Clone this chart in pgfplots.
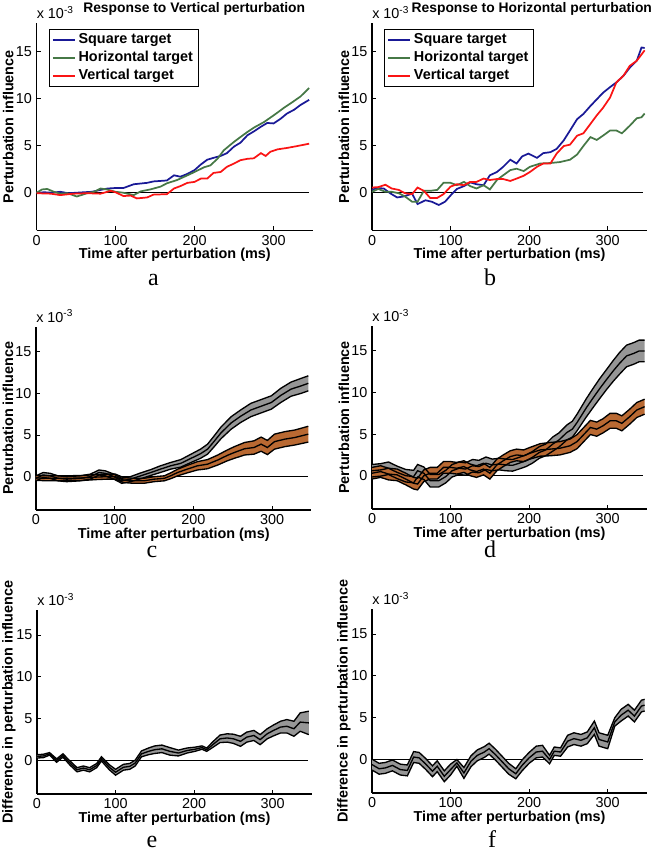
\documentclass[border=0pt]{standalone}
\usepackage{fontspec}
\setmainfont{Liberation Sans}
\newfontfamily\letterfont{Liberation Serif}
\usepackage{pgfplots}
\pgfplotsset{compat=1.18}
\usepackage{pgfplotstable}

\definecolor{mblue}{RGB}{25,25,150}
\definecolor{mgreen}{RGB}{70,120,70}
\definecolor{mred}{RGB}{250,20,20}
\definecolor{bgray}{RGB}{150,150,150}
\definecolor{bbrown}{RGB}{185,105,50}

\newcommand{\tf}{\fontsize{10.8}{12.5}\selectfont}
\newcommand{\ttlf}{\fontsize{10.4}{12}\selectfont}

% panel c
\pgfplotstableread{
x lo c hi
0 -0.5 -0.2 0.1
9 -0.1 0.2 0.5
18 -0.2 0.1 0.4
28 -0.5 -0.2 0.1
39 -0.6 -0.3 0.0
56 -0.5 -0.2 0.1
69 -0.3 0.0 0.3
80 0.2 0.5 0.8
88 0.1 0.4 0.7
99 -0.3 0.0 0.3
109 -0.8 -0.5 -0.2
120 -0.6 -0.3 0.0
133 -0.25 0.1 0.45
146 0.15 0.5 0.85
158 0.5 0.9 1.3
171 0.9 1.3 1.7
184 1.15 1.6 2.05
197 1.7 2.2 2.7
209 2.2 2.75 3.3
218 2.7 3.3 3.9
226 3.55 4.2 4.85
235 4.55 5.25 5.95
248 5.7 6.45 7.2
260 6.5 7.25 8.0
273 7.2 8.0 8.8
286 7.65 8.45 9.25
299 8.1 8.9 9.7
311 8.9 9.75 10.6
324 9.65 10.5 11.35
337 10.0 10.9 11.8
346 10.3 11.2 12.1
}\cgray
\pgfplotstableread{
x lo c hi
0 -0.45 -0.15 0.15
18 -0.5 -0.2 0.1
39 -0.5 -0.2 0.1
60 -0.45 -0.15 0.15
77 -0.35 -0.05 0.25
90 -0.3 0.0 0.3
101 -0.3 0.0 0.3
111 -0.7 -0.4 -0.1
124 -0.8 -0.5 -0.2
137 -0.8 -0.5 -0.2
150 -0.6 -0.3 0.0
163 -0.5 -0.2 0.1
171 -0.25 0.1 0.45
180 0.1 0.5 0.9
192 0.45 0.9 1.35
205 0.8 1.3 1.8
218 0.95 1.5 2.05
231 1.4 2.0 2.6
243 1.9 2.55 3.2
252 2.2 2.9 3.6
265 2.6 3.35 4.1
277 2.7 3.5 4.3
286 3.05 3.9 4.75
294 2.65 3.5 4.35
303 3.3 4.2 5.1
316 3.6 4.5 5.4
329 3.8 4.7 5.6
346 4.15 5.1 6.05
}\cbrown
% panel d
\pgfplotstableread{
x lo c hi
0 -0.15 0.6 1.35
11 -0.05 0.7 1.45
21 0.15 0.9 1.65
32 -0.35 0.4 1.15
43 -0.75 0.0 0.75
53 -0.85 -0.1 0.65
58 -0.15 0.6 1.35
66 -0.45 0.3 1.05
74 -1.35 -0.6 0.15
85 -1.35 -0.6 0.15
94 -0.85 -0.1 0.65
102 -0.15 0.6 1.35
111 0.15 0.9 1.65
119 0.05 0.8 1.55
128 0.45 1.2 1.95
136 0.35 1.1 1.85
145 0.75 1.5 2.25
153 0.6 1.3 2.0
162 0.7 1.4 2.1
170 0.6 1.3 2.0
179 0.55 1.25 1.95
187 0.8 1.5 2.2
196 1.1 1.8 2.5
204 1.5 2.2 2.9
213 2.1 2.8 3.5
221 2.4 3.1 3.8
230 2.95 3.8 4.65
238 3.45 4.3 5.15
248 4.3 5.2 6.1
255 4.65 5.6 6.55
261 5.4 6.4 7.4
267 6.25 7.3 8.35
273 7.1 8.2 9.3
281 8.15 9.3 10.45
290 9.3 10.5 11.7
298 10.3 11.5 12.7
307 11.35 12.6 13.85
315 12.2 13.5 14.8
324 13.1 14.4 15.7
333 13.4 14.7 16.0
340 13.7 15.0 16.3
347 13.7 15.0 16.3
}\dgray
\pgfplotstableread{
x lo c hi
0 -0.4 0.3 1.0
11 -0.2 0.5 1.2
21 -0.5 0.2 0.9
32 -0.6 0.1 0.8
43 -1.1 -0.4 0.3
53 -1.6 -0.9 -0.2
58 -1.7 -1.0 -0.3
66 -0.7 0.0 0.7
74 -0.4 0.3 1.0
83 -0.4 0.3 1.0
91 0.3 1.0 1.7
100 0.3 1.0 1.7
108 0.2 0.9 1.6
117 0.4 1.1 1.8
125 0.0 0.7 1.4
133 -0.2 0.5 1.2
142 0.1 0.8 1.5
150 -0.4 0.3 1.0
159 0.6 1.3 2.0
167 1.1 1.8 2.5
176 1.6 2.3 3.0
184 1.8 2.5 3.2
193 1.7 2.4 3.1
201 2.0 2.7 3.4
214 2.35 3.1 3.85
227 2.4 3.2 4.0
239 2.5 3.3 4.1
252 2.8 3.6 4.4
261 3.25 4.1 4.95
269 4.05 4.9 5.75
278 4.95 5.8 6.65
286 4.75 5.6 6.45
294 5.15 6.0 6.85
303 5.7 6.6 7.5
311 5.7 6.6 7.5
318 5.4 6.3 7.2
328 6.2 7.1 8.0
337 7.0 7.9 8.8
347 7.4 8.3 9.2
}\dbrown
% panel e
\pgfplotstableread{
x lo c hi
0 0.3 0.5 0.7
8 0.35 0.55 0.75
16 0.65 0.8 0.95
25 -0.2 0.0 0.2
33 0.4 0.6 0.8
42 -0.55 -0.3 -0.05
51 -1.35 -1.1 -0.85
59 -1.15 -0.9 -0.65
67 -1.35 -1.1 -0.85
76 -0.85 -0.6 -0.35
82 -0.05 0.2 0.45
92 -1.1 -0.8 -0.5
100 -1.75 -1.4 -1.05
110 -1.15 -0.8 -0.45
118 -1.05 -0.7 -0.35
125 -0.65 -0.3 0.05
133 0.45 0.8 1.15
142 0.7 1.1 1.5
150 0.85 1.3 1.75
159 0.95 1.4 1.85
169 0.65 1.1 1.55
180 0.55 0.9 1.25
191 0.9 1.2 1.5
201 1.1 1.35 1.6
210 1.35 1.55 1.75
216 1.1 1.3 1.5
225 1.65 2.0 2.35
233 2.15 2.6 3.05
242 2.2 2.7 3.2
250 2.05 2.6 3.15
259 1.7 2.3 2.9
267 2.2 2.8 3.4
276 2.4 3.0 3.6
284 1.9 2.5 3.1
293 2.6 3.2 3.8
301 2.95 3.6 4.25
310 3.3 4.0 4.7
318 3.3 4.1 4.9
327 2.9 3.8 4.7
335 3.5 4.6 5.7
346 3.1 4.5 5.9
}\egray
% panel f
\pgfplotstableread{
x lo c hi
0 -1.25 -0.6 0.05
9 -1.75 -1.1 -0.45
17 -1.65 -1.0 -0.35
26 -1.35 -0.7 -0.05
36 -1.85 -1.2 -0.55
45 -1.95 -1.3 -0.65
53 -0.35 0.3 0.95
60 -0.45 0.2 0.85
68 -1.15 -0.5 0.15
77 -2.05 -1.4 -0.75
83 -1.45 -0.8 -0.15
92 -2.65 -2.0 -1.35
100 -1.85 -1.2 -0.55
108 -0.8 -0.4 0.0
117 -2.25 -1.6 -0.95
126 -0.85 -0.2 0.45
134 -0.15 0.5 1.15
143 0.25 0.9 1.55
149 0.65 1.3 1.95
157 -0.05 0.6 1.25
166 -0.95 -0.3 0.35
174 -1.75 -1.1 -0.45
183 -2.3 -1.7 -1.1
191 -1.35 -0.7 -0.05
200 -0.45 0.2 0.85
209 0.2 0.9 1.6
217 0.3 1.0 1.7
226 -0.5 0.0 0.5
232 0.5 1.0 1.5
240 0.4 0.9 1.4
249 1.5 2.2 2.9
257 1.8 2.5 3.2
266 1.6 2.3 3.0
274 1.9 2.6 3.3
283 3.0 3.8 4.6
289 1.6 2.4 3.2
300 1.3 2.1 2.9
309 4.0 4.5 5.0
317 4.6 5.3 6.0
326 5.2 5.9 6.6
334 4.5 5.2 5.9
343 5.7 6.4 7.1
347 5.8 6.5 7.2
}\fgray

\pgfplotsset{
 panel/.style={
  scale only axis, width=206.25pt,
  axis lines*=left, xmin=0, xmax=350, ymin=-4, ymax=18,
  xtick={0,100,200,300}, ytick={0,5,10,15},
  tick align=inside, major tick length=3pt,
  axis line style={line width=0.9pt, black},
  every tick/.style={black, line width=0.7pt},
  tick label style={font=\tf},
  /pgf/number format/assume math mode=true,
  scaled ticks=false,
  clip=false,
  label style={font=\bfseries\tf},
  xlabel={Time after perturbation (ms)},
  xlabel style={at={(axis description cs:0.5,0)}, anchor=center, yshift=-18.5pt},
  ylabel style={at={(axis description cs:-0.102,0.5)}, anchor=center},
 },
 legstyle/.style={
  legend style={at={(axis description cs:0.045,0.971)}, anchor=north west,
   draw=black, line width=0.6pt, font=\bfseries\tf,
   inner xsep=2pt, inner ysep=1.2pt, row sep=0pt, nodes={inner sep=2.1pt}},
  legend cell align=left,
  legend image code/.code={\draw[##1, line width=1.3pt] (0pt,0pt) -- (16.5pt,0pt);},
 },
 bandline/.style={black, line width=1pt},
}
\newcommand{\expo}{\node[anchor=base west, font=\tf, inner sep=0pt] at (rel axis cs:0,1) [yshift=3.4pt] {x 10\textsuperscript{-3}};}

\begin{document}
\begin{tikzpicture}
\useasboundingbox (0,0) rectangle (495pt,639.75pt);

% ---------- a ----------
\begin{axis}[panel, legstyle, at={(27.4pt,466.9pt)}, width=207.4pt, height=155.6pt,
  ylabel={Perturbation influence}]
\addplot[black, line width=0.8pt, forget plot] coordinates {(0,0) (345,0)};
\addplot[mblue, line width=1.3pt] coordinates {
(0,0.0) (10,0.05) (20,0.0) (30,0.1) (40,-0.05) (50,0.0) (60,0.05) (70,0.1) (81,0.3) (90,0.45)
(100,0.5) (110,0.5) (123,0.9) (140,1.05) (148,1.2) (165,1.3) (174,1.85) (182,1.7) (191,2.0)
(200,2.4) (208,3.0) (216,3.5) (224,3.7) (233,3.9) (241,4.2) (250,4.9) (258,5.3) (267,6.1)
(275,6.5) (284,7.0) (292,7.4) (300,7.35) (309,7.85) (317,8.4) (326,8.8) (334,9.3) (345,9.85)};
\addlegendentry{Square target}
\addplot[mgreen, line width=1.3pt] coordinates {
(0,0.0) (7,0.35) (13.5,0.4) (22,0.1) (30,-0.1) (39,-0.05) (51,-0.4) (64,-0.05) (73,0.1)
(81,0.45) (89,0.35) (100,0.1) (110,0.0) (123,-0.25) (132,0.15) (144,0.35) (157,0.65)
(165,1.0) (178,1.35) (191,1.85) (200,2.2) (212,2.7) (220,2.9) (229,3.6) (237,4.5) (250,5.4)
(258,5.9) (267,6.45) (275,6.9) (288,7.5) (300,8.2) (305,8.5) (313,9.0) (322,9.5) (334,10.2)
(345,11.1)};
\addlegendentry{Horizontal target}
\addplot[mred, line width=1.3pt] coordinates {
(0,-0.05) (18,-0.1) (30,-0.25) (47,-0.1) (64,-0.05) (81,-0.1) (94,0.2) (100,0.05) (110,-0.35)
(119,-0.3) (127,-0.6) (140,-0.5) (148,-0.2) (165,-0.15) (174,0.45) (182,0.7) (191,1.05)
(200,1.15) (208,1.5) (216,1.5) (224,2.1) (233,2.2) (241,2.75) (250,3.1) (258,3.45) (267,3.6)
(275,3.65) (284,4.2) (290,3.9) (296,4.35) (305,4.6) (317,4.75) (330,4.95) (345,5.2)};
\addlegendentry{Vertical target}
\expo
\end{axis}

% ---------- b ----------
\begin{axis}[panel, legstyle, at={(279pt,466.9pt)}, height=155.6pt,
  ylabel={Perturbation influence}]
\addplot[black, line width=0.8pt, forget plot] coordinates {(0,0) (345,0)};
\addplot[mblue, line width=1.3pt] coordinates {
(0,0.3) (6,0.5) (15,0.45) (23,-0.05) (32,-0.5) (40,-0.4) (51,-0.1) (58,-1.2) (68,-0.8)
(76,-0.95) (85,-1.3) (93,-0.95) (102,-0.1) (108,0.4) (117,0.7) (125,1.1) (133,0.9) (142,0.8)
(150,1.85) (159,2.2) (167,2.75) (176,3.5) (184,3.1) (191,3.85) (199,4.15) (210,3.7) (218,4.2)
(227,4.3) (235,4.65) (244,5.55) (252,6.6) (261,7.8) (269,8.35) (278,9.2) (286,9.9) (294,10.6)
(303,11.2) (311,11.7) (320,12.4) (328,13.25) (337,14.0) (343,15.4) (347,15.35)};
\addlegendentry{Square target}
\addplot[mgreen, line width=1.3pt] coordinates {
(0,0.1) (8,0.4) (17,0.1) (25,0.1) (34,-0.05) (42,-0.4) (51,-0.95) (58,-0.95) (66,0.2) (74,0.2)
(83,0.3) (91,1.05) (100,1.05) (108,0.8) (117,1.15) (125,0.7) (133,0.45) (142,0.8) (150,0.35)
(159,1.35) (167,1.85) (176,2.4) (184,2.55) (193,2.3) (201,2.75) (214,3.1) (227,3.15) (239,3.25)
(252,3.5) (261,4.05) (269,4.95) (278,5.9) (286,5.6) (294,6.05) (303,6.6) (311,6.6) (318,6.3)
(328,7.1) (337,7.9) (343,8.0) (347,8.4)};
\addlegendentry{Horizontal target}
\addplot[mred, line width=1.3pt] coordinates {
(0,0.55) (8,0.6) (17,0.85) (25,0.45) (34,0.3) (42,-0.05) (51,-0.15) (58,0.55) (66,0.2)
(74,-0.55) (83,-0.55) (91,-0.15) (100,0.65) (108,0.9) (117,0.8) (125,1.15) (133,1.15) (142,1.5)
(150,1.35) (159,1.45) (167,1.45) (176,1.25) (184,1.5) (193,1.8) (201,2.2) (210,2.75) (218,3.1)
(227,3.1) (235,4.15) (244,4.95) (252,5.1) (261,6.05) (269,6.3) (278,7.3) (286,8.2) (294,9.0)
(303,10.1) (311,11.7) (320,12.4) (328,13.45) (337,14.0) (347,15.1)};
\addlegendentry{Vertical target}
\expo
\end{axis}

% ---------- c ----------
\begin{axis}[panel, at={(27pt,257.25pt)}, width=206.6pt, height=137.5pt,
  ylabel={Perturbation influence}]
\addplot[black, line width=0.8pt] coordinates {(0,0) (345,0)};
\addplot[fill=bgray, draw=none] coordinates {
(0,0.1) (9,0.5) (18,0.4) (28,0.1) (39,0.0) (56,0.1) (69,0.3) (80,0.8) (88,0.7) (99,0.3) (109,-0.2) (120,0.0) (133,0.45) (146,0.85) (158,1.3) (171,1.7) (184,2.05) (197,2.7) (209,3.3) (218,3.9) (226,4.85) (235,5.95) (248,7.2) (260,8.0) (273,8.8) (286,9.25) (299,9.7) (311,10.6) (324,11.35) (337,11.8) (346,12.1)
(346,10.3) (337,10.0) (324,9.65) (311,8.9) (299,8.1) (286,7.65) (273,7.2) (260,6.5) (248,5.7) (235,4.55) (226,3.55) (218,2.7) (209,2.2) (197,1.7) (184,1.15) (171,0.9) (158,0.5) (146,0.15) (133,-0.25) (120,-0.6) (109,-0.8) (99,-0.3) (88,0.1) (80,0.2) (69,-0.3) (56,-0.5) (39,-0.6) (28,-0.5) (18,-0.2) (9,-0.1) (0,-0.5)} -- cycle;
\addplot[fill=bbrown, draw=none] coordinates {
(0,0.15) (18,0.1) (39,0.1) (60,0.15) (77,0.25) (90,0.3) (101,0.3) (111,-0.1) (124,-0.2) (137,-0.2) (150,0.0) (163,0.1) (171,0.45) (180,0.9) (192,1.35) (205,1.8) (218,2.05) (231,2.6) (243,3.2) (252,3.6) (265,4.1) (277,4.3) (286,4.75) (294,4.35) (303,5.1) (316,5.4) (329,5.6) (346,6.05)
(346,4.15) (329,3.8) (316,3.6) (303,3.3) (294,2.65) (286,3.05) (277,2.7) (265,2.6) (252,2.2) (243,1.9) (231,1.4) (218,0.95) (205,0.8) (192,0.45) (180,0.1) (171,-0.25) (163,-0.5) (150,-0.6) (137,-0.8) (124,-0.8) (111,-0.7) (101,-0.3) (90,-0.3) (77,-0.35) (60,-0.45) (39,-0.5) (18,-0.5) (0,-0.45)} -- cycle;
\addplot[bandline] table[x=x,y=hi]{\cgray};
\addplot[bandline] table[x=x,y=lo]{\cgray};
\addplot[bandline] table[x=x,y=c]{\cgray};
\addplot[bandline] table[x=x,y=hi]{\cbrown};
\addplot[bandline] table[x=x,y=lo]{\cbrown};
\addplot[bandline] table[x=x,y=c]{\cbrown};
\expo
\end{axis}

% ---------- d ----------
\begin{axis}[panel, at={(279pt,258pt)}, height=137.25pt,
  ylabel={Perturbation influence}]
\addplot[black, line width=0.8pt] coordinates {(0,0) (345,0)};
\addplot[fill=bgray, draw=none] coordinates {
(0,1.35) (11,1.45) (21,1.65) (32,1.15) (43,0.75) (53,0.65) (58,1.35) (66,1.05) (74,0.15) (85,0.15) (94,0.65) (102,1.35) (111,1.65) (119,1.55) (128,1.95) (136,1.85) (145,2.25) (153,2.0) (162,2.1) (170,2.0) (179,1.95) (187,2.2) (196,2.5) (204,2.9) (213,3.5) (221,3.8) (230,4.65) (238,5.15) (248,6.1) (255,6.55) (261,7.4) (267,8.35) (273,9.3) (281,10.45) (290,11.7) (298,12.7) (307,13.85) (315,14.8) (324,15.7) (333,16.0) (340,16.3) (347,16.3)
(347,13.7) (340,13.7) (333,13.4) (324,13.1) (315,12.2) (307,11.35) (298,10.3) (290,9.3) (281,8.15) (273,7.1) (267,6.25) (261,5.4) (255,4.65) (248,4.3) (238,3.45) (230,2.95) (221,2.4) (213,2.1) (204,1.5) (196,1.1) (187,0.8) (179,0.55) (170,0.6) (162,0.7) (153,0.6) (145,0.75) (136,0.35) (128,0.45) (119,0.05) (111,0.15) (102,-0.15) (94,-0.85) (85,-1.35) (74,-1.35) (66,-0.45) (58,-0.15) (53,-0.85) (43,-0.75) (32,-0.35) (21,0.15) (11,-0.05) (0,-0.15)} -- cycle;
\addplot[fill=bbrown, draw=none] coordinates {
(0,1.0) (11,1.2) (21,0.9) (32,0.8) (43,0.3) (53,-0.2) (58,-0.3) (66,0.7) (74,1.0) (83,1.0) (91,1.7) (100,1.7) (108,1.6) (117,1.8) (125,1.4) (133,1.2) (142,1.5) (150,1.0) (159,2.0) (167,2.5) (176,3.0) (184,3.2) (193,3.1) (201,3.4) (214,3.85) (227,4.0) (239,4.1) (252,4.4) (261,4.95) (269,5.75) (278,6.65) (286,6.45) (294,6.85) (303,7.5) (311,7.5) (318,7.2) (328,8.0) (337,8.8) (347,9.2)
(347,7.4) (337,7.0) (328,6.2) (318,5.4) (311,5.7) (303,5.7) (294,5.15) (286,4.75) (278,4.95) (269,4.05) (261,3.25) (252,2.8) (239,2.5) (227,2.4) (214,2.35) (201,2.0) (193,1.7) (184,1.8) (176,1.6) (167,1.1) (159,0.6) (150,-0.4) (142,0.1) (133,-0.2) (125,0.0) (117,0.4) (108,0.2) (100,0.3) (91,0.3) (83,-0.4) (74,-0.4) (66,-0.7) (58,-1.7) (53,-1.6) (43,-1.1) (32,-0.6) (21,-0.5) (11,-0.2) (0,-0.4)} -- cycle;
\addplot[bandline] table[x=x,y=hi]{\dgray};
\addplot[bandline] table[x=x,y=lo]{\dgray};
\addplot[bandline] table[x=x,y=c]{\dgray};
\addplot[bandline] table[x=x,y=hi]{\dbrown};
\addplot[bandline] table[x=x,y=lo]{\dbrown};
\addplot[bandline] table[x=x,y=c]{\dbrown};
\expo
\end{axis}

% ---------- e ----------
\begin{axis}[panel, at={(27.75pt,44.25pt)}, height=138pt,
  ylabel={Difference in perturbation influence}]
\addplot[black, line width=0.8pt] coordinates {(0,0) (345,0)};
\addplot[fill=bgray, draw=none] coordinates {
(0,0.7) (8,0.75) (16,0.95) (25,0.2) (33,0.8) (42,-0.05) (51,-0.85) (59,-0.65) (67,-0.85) (76,-0.35) (82,0.45) (92,-0.5) (100,-1.05) (110,-0.45) (118,-0.35) (125,0.05) (133,1.15) (142,1.5) (150,1.75) (159,1.85) (169,1.55) (180,1.25) (191,1.5) (201,1.6) (210,1.75) (216,1.5) (225,2.35) (233,3.05) (242,3.2) (250,3.15) (259,2.9) (267,3.4) (276,3.6) (284,3.1) (293,3.8) (301,4.25) (310,4.7) (318,4.9) (327,4.7) (335,5.7) (346,5.9)
(346,3.1) (335,3.5) (327,2.9) (318,3.3) (310,3.3) (301,2.95) (293,2.6) (284,1.9) (276,2.4) (267,2.2) (259,1.7) (250,2.05) (242,2.2) (233,2.15) (225,1.65) (216,1.1) (210,1.35) (201,1.1) (191,0.9) (180,0.55) (169,0.65) (159,0.95) (150,0.85) (142,0.7) (133,0.45) (125,-0.65) (118,-1.05) (110,-1.15) (100,-1.75) (92,-1.1) (82,-0.05) (76,-0.85) (67,-1.35) (59,-1.15) (51,-1.35) (42,-0.55) (33,0.4) (25,-0.2) (16,0.65) (8,0.35) (0,0.3)} -- cycle;
\addplot[bandline] table[x=x,y=hi]{\egray};
\addplot[bandline] table[x=x,y=lo]{\egray};
\addplot[bandline] table[x=x,y=c]{\egray};
\expo
\end{axis}

% ---------- f ----------
\begin{axis}[panel, at={(279pt,45pt)}, height=138pt,
  ylabel={Difference in perturbation influence}]
\addplot[black, line width=0.8pt] coordinates {(0,0) (345,0)};
\addplot[fill=bgray, draw=none] coordinates {
(0,0.05) (9,-0.45) (17,-0.35) (26,-0.05) (36,-0.55) (45,-0.65) (53,0.95) (60,0.85) (68,0.15) (77,-0.75) (83,-0.15) (92,-1.35) (100,-0.55) (108,0.0) (117,-0.95) (126,0.45) (134,1.15) (143,1.55) (149,1.95) (157,1.25) (166,0.35) (174,-0.45) (183,-1.1) (191,-0.05) (200,0.85) (209,1.6) (217,1.7) (226,0.5) (232,1.5) (240,1.4) (249,2.9) (257,3.2) (266,3.0) (274,3.3) (283,4.6) (289,3.2) (300,2.9) (309,5.0) (317,6.0) (326,6.6) (334,5.9) (343,7.1) (347,7.2)
(347,5.8) (343,5.7) (334,4.5) (326,5.2) (317,4.6) (309,4.0) (300,1.3) (289,1.6) (283,3.0) (274,1.9) (266,1.6) (257,1.8) (249,1.5) (240,0.4) (232,0.5) (226,-0.5) (217,0.3) (209,0.2) (200,-0.45) (191,-1.35) (183,-2.3) (174,-1.75) (166,-0.95) (157,-0.05) (149,0.65) (143,0.25) (134,-0.15) (126,-0.85) (117,-2.25) (108,-0.8) (100,-1.85) (92,-2.65) (83,-1.45) (77,-2.05) (68,-1.15) (60,-0.45) (53,-0.35) (45,-1.95) (36,-1.85) (26,-1.35) (17,-1.65) (9,-1.75) (0,-1.25)} -- cycle;
\addplot[bandline] table[x=x,y=hi]{\fgray};
\addplot[bandline] table[x=x,y=lo]{\fgray};
\addplot[bandline] table[x=x,y=c]{\fgray};
\expo
\end{axis}

% titles and panel letters
\node[anchor=base west, font=\bfseries\ttlf, inner sep=0pt] at (62.25pt,630.6pt) {Response to Vertical perturbation};
\node[anchor=base west, font=\bfseries\ttlf, inner sep=0pt] at (308.5pt,630.6pt) {Response to Horizontal perturbation};
\node[anchor=base, font=\letterfont\fontsize{18}{20}\selectfont, inner sep=0pt] at (115.1pt,425.5pt) {a};
\node[anchor=base, font=\letterfont\fontsize{18}{20}\selectfont, inner sep=0pt] at (367.5pt,425.5pt) {b};
\node[anchor=base, font=\letterfont\fontsize{18}{20}\selectfont, inner sep=0pt] at (114pt,221.25pt) {c};
\node[anchor=base, font=\letterfont\fontsize{18}{20}\selectfont, inner sep=0pt] at (367.5pt,221.25pt) {d};
\node[anchor=base, font=\letterfont\fontsize{18}{20}\selectfont, inner sep=0pt] at (114pt,4.5pt) {e};
\node[anchor=base, font=\letterfont\fontsize{18}{20}\selectfont, inner sep=0pt] at (369pt,4.5pt) {f};
\end{tikzpicture}
\end{document}
